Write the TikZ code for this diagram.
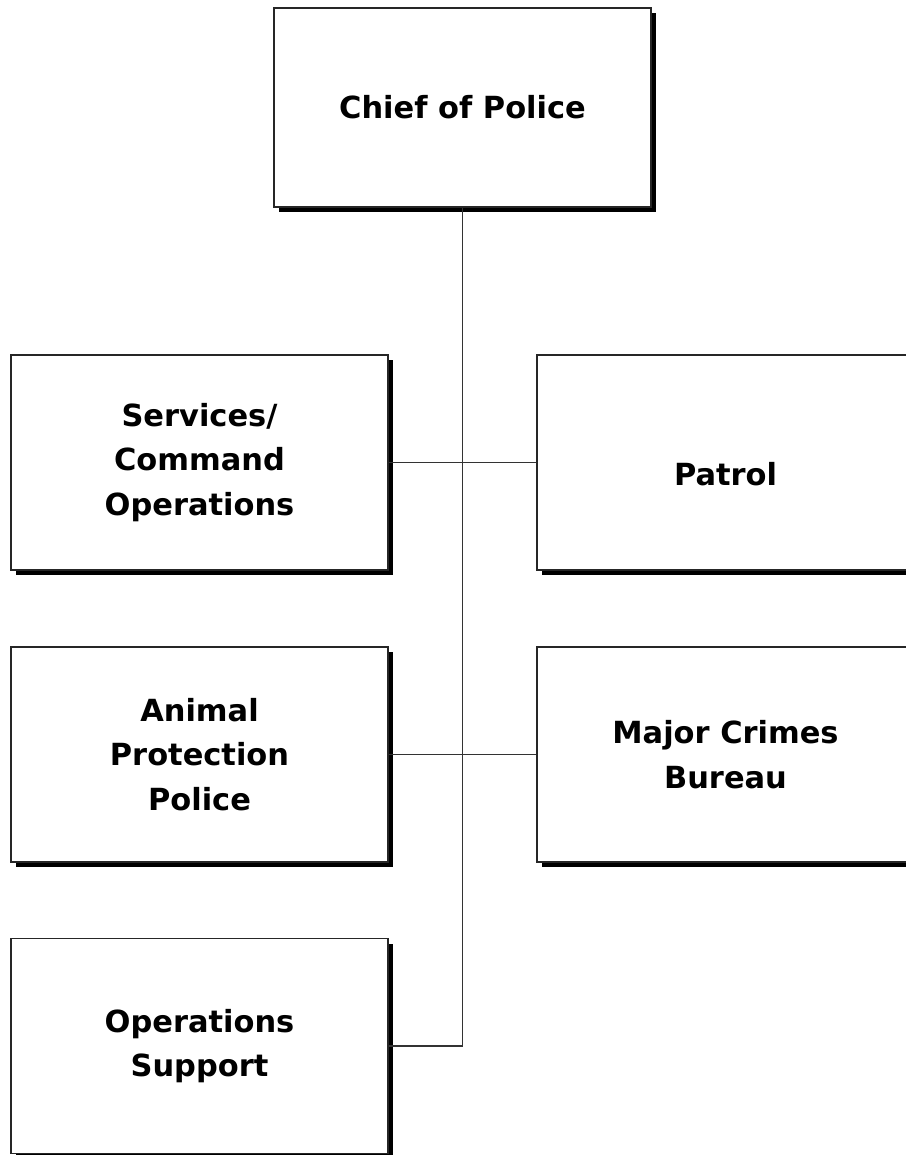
\documentclass[tikz,border=0pt]{standalone}
\usepackage{fontspec}
\setsansfont{DejaVu Sans}
\usetikzlibrary{shadows}

\tikzset{
  unit/.style={draw=black!85, line width=0.045cm, fill=white,
    minimum width=11.31cm, minimum height=6.45cm, inner sep=0pt, align=center,
    font=\sffamily\bfseries\fontsize{26}{38}\selectfont,
    drop shadow={shadow xshift=0.16cm, shadow yshift=-0.16cm, fill=black, opacity=1}},
  lowered/.style={execute at begin node={\rule{0pt}{1.4cm}}},
  link/.style={draw=black!80, line width=0.045cm}
}

\begin{document}
\begin{tikzpicture}[x=0.03cm, y=-0.03cm]
			%%%%% START %%%%%
			\useasboundingbox (0, 0) rectangle (906, 1155);
			\clip (0, 0) rectangle (906, 1155);
			
			\node[unit, minimum height=5.97cm] (chief) at (462.5, 107.5) {Chief of Police};
			
			\node[unit, lowered] (svc) at (199.5, 462.5) {Services/\\Command\\Operations};
			\node[unit, lowered] (patrol) at (725.5, 462.5) {Patrol};
			
			\node[unit, lowered] (animal) at (199.5, 754.5) {Animal\\Protection\\Police};
			\node[unit, lowered] (major) at (725.5, 754.5) {Major Crimes\\Bureau};
			
			\node[unit, lowered] (ops) at (199.5, 1046) {Operations\\Support};
			
			\draw[link] (chief.south) -- (chief.south |- ops.east) -- (ops.east);
			\draw[link] (svc.east) -- (patrol.west);
			\draw[link] (animal.east) -- (major.west);
			
			%%%%% END %%%%%
\end{tikzpicture}
\end{document}
